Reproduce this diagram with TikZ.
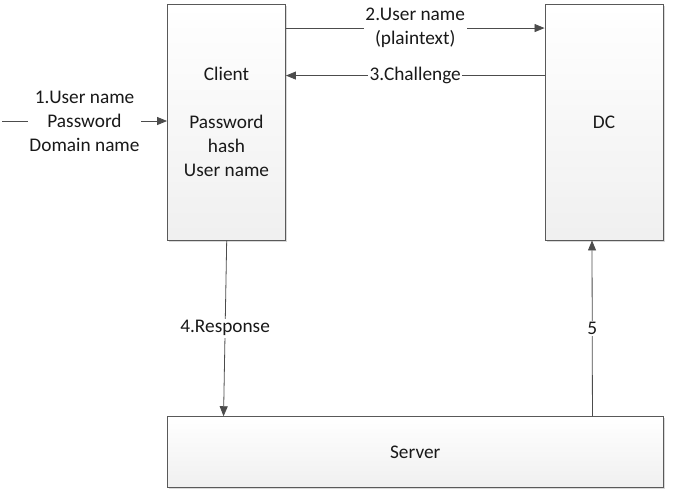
\documentclass[tikz,border=0pt]{standalone}
\usepackage{fontspec}
\setmainfont{Carlito}
\usetikzlibrary{arrows.meta,shadows}
\tikzset{
  box/.style={draw=black!65,line width=0.9pt,top color=white,bottom color=black!6,
    drop shadow={shadow xshift=1.5pt,shadow yshift=-1.5pt,fill=black!25,opacity=0.6},
    align=center,inner sep=0pt,text=black!90},
  msg/.style={draw=black!70,line width=0.8pt,-{Triangle[length=10pt,width=8pt]}},
  lbl/.style={fill=white,align=center,inner sep=1.5pt,text=black!90}
}
\begin{document}
\begin{tikzpicture}[x=1pt,y=-1pt,font=\fontsize{19.3}{24}\selectfont]
  \useasboundingbox (0,0) rectangle (686,499);
  % boxes
  \node[box,minimum width=118pt,minimum height=235.5pt] (client) at (226.5,122.25)
    {Client\\[24pt]Password\\hash\\User name};
  \node[box,minimum width=118pt,minimum height=235.5pt] (dc) at (604,122.25) {DC};
  \node[box,minimum width=495.5pt,minimum height=71pt] (server) at (415.25,452.2) {Server};
  % messages
  \coordinate (user) at (2,121);
  \draw[msg] (user) -- node[lbl] {1.User name\\Password\\Domain name} (user -| client.west);
  \draw[msg] ([yshift=-24pt]client.north east) -- node[lbl] {2.User name\\(plaintext)}
    ([yshift=-24pt]dc.north west);
  \draw[msg] ([yshift=-71.5pt]dc.north west) -- node[lbl] {3.Challenge}
    ([yshift=-71.5pt]client.north east);
  \draw[msg] ([xshift=0.2pt]client.south) -- node[lbl] {4.Response}
    ([xshift=56.5pt]server.north west);
  \draw[msg] ([xshift=-71pt]server.north east) -- node[lbl] {5} ([xshift=-12pt]dc.south);
\end{tikzpicture}
\end{document}
